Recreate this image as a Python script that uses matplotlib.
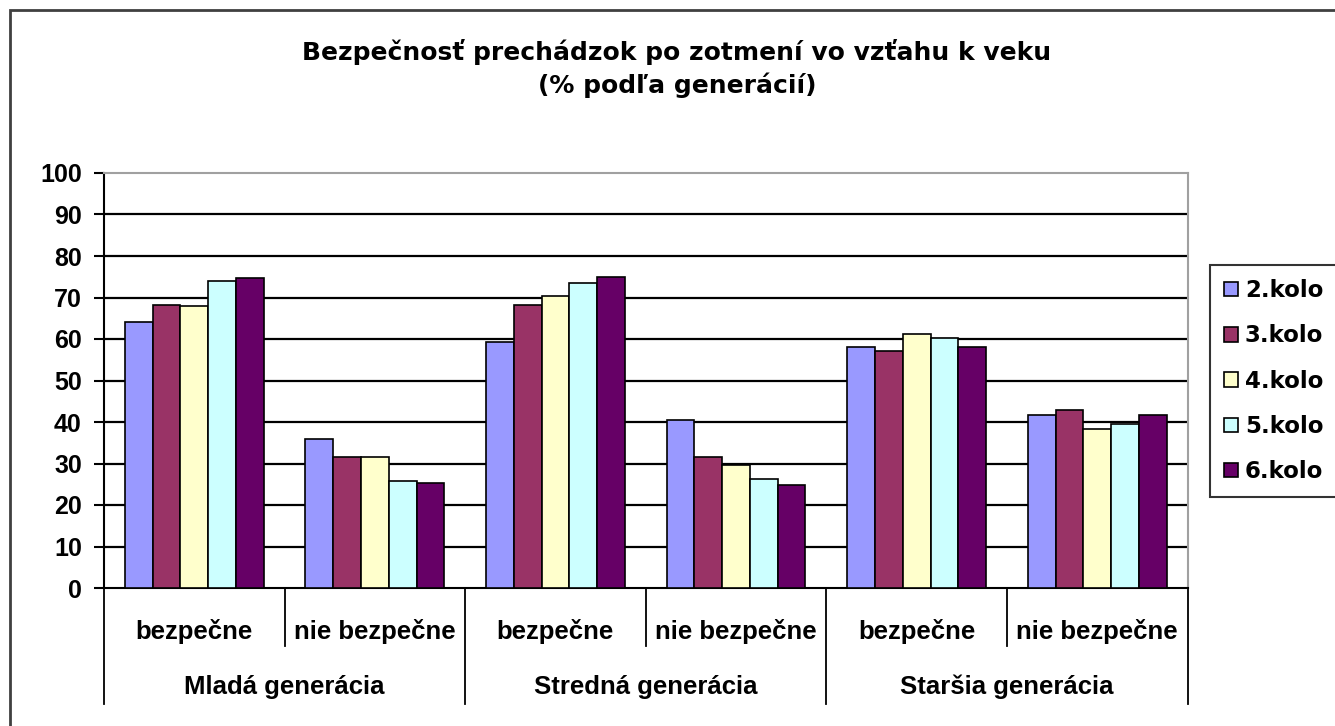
import matplotlib
matplotlib.use('Agg')
import matplotlib.pyplot as plt
import matplotlib.transforms as mtransforms
from matplotlib.lines import Line2D
from matplotlib.patches import Rectangle, Patch

# ---- data ----
groups = ['Mladá generácia', 'Stredná generácia', 'Staršia generácia']
answers = ['bezpečne', 'nie bezpečne']
series = ['2.kolo', '3.kolo', '4.kolo', '5.kolo', '6.kolo']
kolo2 = [64.0, 35.8, 59.3, 40.6, 58.1, 41.6]
kolo3 = [68.1, 31.6, 68.2, 31.6, 57.0, 42.8]
kolo4 = [68.0, 31.6, 70.3, 29.6, 61.3, 38.4]
kolo5 = [74.0, 25.8, 73.4, 26.3, 60.2, 39.6]
kolo6 = [74.6, 25.3, 75.0, 24.7, 58.1, 41.6]
values = [kolo2, kolo3, kolo4, kolo5, kolo6]
colors = ['#9999FF', '#993366', '#FFFFCC', '#CCFFFF', '#660066']
yticks = list(range(0, 101, 10))
title_lines = ['Bezpečnosť prechádzok po zotmení vo vzťahu k veku',
               '(% podľa generácií)']

plt.rcParams['font.family'] = ['Liberation Sans', 'DejaVu Sans']
plt.rcParams['font.weight'] = 'bold'
WIDE = ['DejaVu Sans']

W, H = 1335, 726
fig = plt.figure(figsize=(W / 100, H / 100), dpi=100)


def fx(px):
    return px / W


def fy(py):
    return 1 - py / H


ax_l, ax_r, ax_t, ax_b = 104, 1187.5, 173, 588
ax_h = ax_b - ax_t
ax = fig.add_axes([fx(ax_l), fy(ax_b), (ax_r - ax_l) / W, ax_h / H])

ncat = len(answers) * len(groups)
nser = len(series)
w = 1.0 / (nser + 1.5)
for k, (vals, col, lab) in enumerate(zip(values, colors, series)):
    xs = [i + 0.5 + (k - (nser - 1) / 2) * w for i in range(ncat)]
    ax.bar(xs, vals, width=w, color=col, edgecolor='black', linewidth=1.2,
           zorder=3, label=lab)

for v in yticks[1:-1]:
    ax.axhline(v, color='black', lw=1.6, zorder=1)

ax.set_xlim(0, ncat)
ax.set_ylim(0, 100)
ax.set_yticks(yticks)
ax.set_xticks([])
ax.tick_params(axis='y', direction='out', length=7, width=1.5, labelsize=18,
               pad=9, colors='black')
for t in ax.get_yticklabels():
    t.set_fontweight('bold')
ax.spines['left'].set_linewidth(1.5)
ax.spines['bottom'].set_linewidth(1.5)
ax.spines['top'].set_color('#A0A0A0')
ax.spines['right'].set_color('#A0A0A0')
ax.spines['top'].set_linewidth(1.5)
ax.spines['right'].set_linewidth(1.5)

# multi-level category axis
trans = mtransforms.blended_transform_factory(ax.transData, ax.transAxes)
y_short = -(646 - ax_b) / ax_h
y_long = -(704 - ax_b) / ax_h
for i in range(ncat + 1):
    y_end = y_long if i % 2 == 0 else y_short
    ax.add_line(Line2D([i, i], [0, y_end], transform=trans, color='black',
                       lw=1.3, clip_on=False))
y_lab1 = -(631 - ax_b) / ax_h
y_lab2 = -(687 - ax_b) / ax_h
for i in range(ncat):
    ax.text(i + 0.5, y_lab1, answers[i % 2], transform=trans, ha='center',
            va='center', fontsize=18.5, fontweight='bold')
for g, name in enumerate(groups):
    ax.text(2 * g + 1, y_lab2, name, transform=trans, ha='center',
            va='center', fontsize=18.5, fontweight='bold')

# title
fig.text(fx(677), fy(52), title_lines[0], ha='center', va='center',
         fontsize=18, fontweight='bold', family=WIDE)
fig.text(fx(677), fy(85), title_lines[1], ha='center', va='center',
         fontsize=18, fontweight='bold', family=WIDE)

# legend
handles = [Patch(facecolor=c, edgecolor='black', linewidth=1.2) for c in colors]
leg = fig.legend(handles, series, loc='upper left',
                 bbox_to_anchor=(fx(1210), fy(265)),
                 prop={'family': WIDE, 'weight': 'bold', 'size': 16.5},
                 frameon=True, fancybox=False, edgecolor='black',
                 handlelength=0.6, handleheight=0.6, handletextpad=0.3,
                 labelspacing=0.97, borderpad=0.62, borderaxespad=0)
leg.get_frame().set_linewidth(1.5)

# outer chart border (right/bottom edges fall outside the picture)
fig.patches.append(Rectangle((fx(10), fy(H + 20)), (W + 20) / W, (H + 10) / H,
                             transform=fig.transFigure, fill=False,
                             edgecolor='#404040', lw=2))

fig.savefig('out.png', dpi=100)
